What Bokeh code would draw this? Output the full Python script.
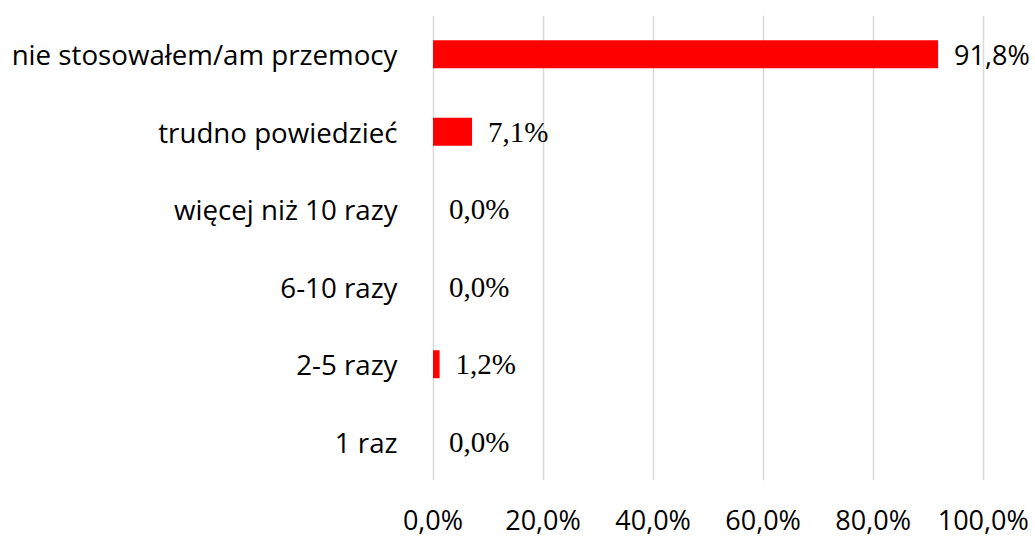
from bokeh.plotting import figure
from bokeh.models import ColumnDataSource, FactorRange, FixedTicker, LabelSet
from bokeh.core.properties import value
from bokeh.embed import file_html
from bokeh.resources import INLINE

categories = ["1 raz", "2-5 razy", "6-10 razy", "więcej niż 10 razy",
              "trudno powiedzieć", "nie stosowałem/am przemocy"]
values = [0.0, 1.2, 0.0, 0.0, 7.1, 91.8]
value_labels = ["0,0%", "1,2%", "0,0%", "0,0%", "7,1%", "91,8%"]
tick_values = [0, 20, 40, 60, 80, 100]
tick_labels = ["0,0%", "20,0%", "40,0%", "60,0%", "80,0%", "100,0%"]

W, H = 1035, 540
p = figure(width=W, height=H, output_backend="svg", toolbar_location=None,
           y_range=FactorRange(factors=categories), x_range=(-1, 109.5),
           min_border_left=427, min_border_right=0, min_border_top=15,
           min_border_bottom=H - 484)
p.outline_line_color = None
p.background_fill_color = "white"
p.border_fill_color = "white"

src = ColumnDataSource(dict(cat=categories, val=values, lab=value_labels))
p.hbar(y="cat", right="val", left=0, height=0.36, source=src,
       fill_color="#ff0000", line_color=None)

serif_idx = [i for i in range(len(values)) if i != len(values) - 1]
src_serif = ColumnDataSource(dict(cat=[categories[i] for i in serif_idx],
                                  val=[values[i] for i in serif_idx],
                                  lab=[value_labels[i] for i in serif_idx]))
src_sans = ColumnDataSource(dict(cat=[categories[-1]], val=[values[-1]], lab=[value_labels[-1]]))

p.add_layout(LabelSet(x="val", y="cat", text="lab", source=src_serif, x_offset=16,
                      text_font=value("Liberation Serif"), text_font_size=value("29px"),
                      text_baseline="middle", text_align="left", text_color="#000000"))
p.add_layout(LabelSet(x="val", y="cat", text="lab", source=src_sans, x_offset=16,
                      text_font=value("Open Sans"), text_font_size=value("27px"),
                      text_baseline="middle", text_align="left", text_color="#000000"))

p.ygrid.grid_line_color = None
p.xgrid.grid_line_color = "#d9d9d9"
p.xgrid.grid_line_width = 1.5
p.xaxis.ticker = FixedTicker(ticks=tick_values)
p.xaxis.major_label_overrides = {v: l for v, l in zip(tick_values, tick_labels)}

for ax in (p.xaxis, p.yaxis):
    ax.axis_line_color = None
    ax.major_tick_line_color = None
    ax.minor_tick_line_color = None
    ax.major_tick_out = 0
    ax.major_tick_in = 0
    ax.major_label_text_font = "Open Sans"
    ax.major_label_text_font_size = "27px"
    ax.major_label_text_color = "#000000"

p.yaxis.major_label_text_font_size = "27.7px"
p.yaxis.major_label_standoff = 30
p.xaxis.major_label_standoff = 20

open("out.html", "w").write(file_html(p, INLINE))
